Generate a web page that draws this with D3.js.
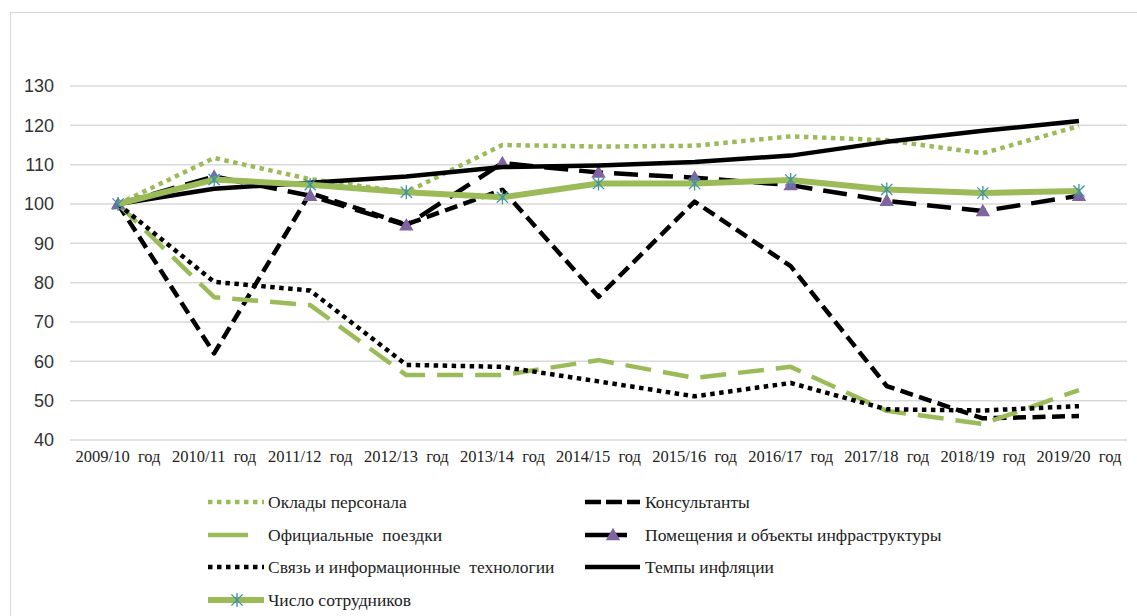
<!DOCTYPE html>
<html>
<head>
<meta charset="utf-8">
<script src="https://cdn.jsdelivr.net/npm/d3@7"></script>
<style>
  html, body { margin: 0; padding: 0; background: #fff; }
  svg { display: block; }
</style>
</head>
<body>
<main></main>
<script>
const years = ["2009/10", "2010/11", "2011/12", "2012/13", "2013/14", "2014/15",
  "2015/16", "2016/17", "2017/18", "2018/19", "2019/20"];
const yTicks = [40, 50, 60, 70, 80, 90, 100, 110, 120, 130];

const salaries = [100, 111.7, 106.3, 103, 115, 114.6, 114.8, 117.2, 116.2, 112.9, 119.8];
const consultants = [100, 62, 102.8, 94.8, 103.6, 76.4, 100.6, 84.2, 53.7, 45.5, 46.1];
const travel = [100, 76.3, 74.3, 56.5, 56.5, 60.3, 55.8, 58.6, 47.4, 44.1, 52.7];
const premises = [100, 107, 102.1, 94.6, 110.4, 108, 106.7, 104.8, 100.8, 98.2, 102.1];
const ict = [100, 80.2, 78, 59.1, 58.6, 54.9, 51.1, 54.5, 47.8, 47.5, 48.6];
const inflation = [100, 103.9, 105.4, 107, 109.4, 109.8, 110.7, 112.3, 115.8, 118.6, 121.1];
const staff = [100, 106.2, 104.9, 103, 101.7, 105.2, 105.2, 106.1, 103.7, 102.8, 103.3];

const seriesNames = ["Оклады персонала", "Консультанты", "Официальные  поездки",
  "Помещения и объекты инфраструктуры", "Связь и информационные  технологии",
  "Темпы инфляции", "Число сотрудников"];

const green = "#9bbb59", black = "#000", purple = "#8064a2", teal = "#3f93a6";

// order matters: later series are drawn on top
const series = [
  {name: seriesNames[0], values: salaries, color: green, width: 4.5, dash: "4.5,4.5"},
  {name: seriesNames[1], values: consultants, color: black, width: 4.5, dash: "13,6.5"},
  {name: seriesNames[2], values: travel, color: green, width: 4.5, dash: "26,12"},
  {name: seriesNames[3], values: premises, color: black, width: 4.5, dash: "24,11", marker: "triangle"},
  {name: seriesNames[4], values: ict, color: black, width: 4.5, dash: "4.5,4.5"},
  {name: seriesNames[5], values: inflation, color: black, width: 4.5, dash: null},
  {name: seriesNames[6], values: staff, color: green, width: 6, dash: null, marker: "star"}
];

const W = 1137, H = 616;
const svg = d3.select("main").append("svg")
  .attr("width", W).attr("height", H).attr("viewBox", `0 0 ${W} ${H}`);

// outer chart frame (only top and left edges are visible)
svg.append("rect")
  .attr("x", 10.5).attr("y", 12.5).attr("width", 1200).attr("height", 700)
  .attr("fill", "none").attr("stroke", "#d9d9d9").attr("stroke-width", 1.2);

const x = d3.scaleBand().domain(years).range([70, 1127]);
const y = d3.scaleLinear().domain([40, 130]).range([440, 86]);
const cx = d => x(d) + x.bandwidth() / 2;

// gridlines + y labels
const yAxis = svg.append("g")
  .call(d3.axisLeft(y).tickValues(yTicks).tickSize(0).tickPadding(0))
  .attr("transform", "translate(54,0)");
yAxis.select(".domain").remove();
yAxis.selectAll("text")
  .attr("font-family", "'Liberation Sans', Arial, sans-serif")
  .attr("font-size", 18).attr("fill", "#333");

svg.append("g").selectAll("line")
  .data(yTicks).join("line")
  .attr("x1", 70).attr("x2", 1127)
  .attr("y1", d => y(d)).attr("y2", d => y(d))
  .attr("stroke", "#d9d9d9").attr("stroke-width", 1.5);

// x labels
svg.append("g").selectAll("text")
  .data(years).join("text")
  .attr("x", d => cx(d)).attr("y", 462)
  .attr("text-anchor", "middle")
  .attr("font-family", "'Liberation Serif', 'Times New Roman', serif")
  .attr("font-size", 16.5).attr("fill", "#222")
  .style("white-space", "pre")
  .text(d => d + "  год");

const line = d3.line()
  .x((d, i) => cx(years[i]))
  .y(d => y(d));

const triangle = d3.symbol().type(d3.symbolTriangle).size(90);

function drawStar(g, px, py, r, color) {
  const s = g.append("g").attr("transform", `translate(${px},${py})`)
    .attr("stroke", color).attr("stroke-width", 1.3).attr("fill", "none");
  s.append("line").attr("x1", 0).attr("y1", -r).attr("x2", 0).attr("y2", r);
  s.append("line").attr("x1", -r * 0.8).attr("y1", -r * 0.8).attr("x2", r * 0.8).attr("y2", r * 0.8);
  s.append("line").attr("x1", -r * 0.8).attr("y1", r * 0.8).attr("x2", r * 0.8).attr("y2", -r * 0.8);
}

const plot = svg.append("g");
series.forEach(s => {
  plot.append("path")
    .datum(s.values)
    .attr("fill", "none")
    .attr("stroke", s.color)
    .attr("stroke-width", s.width)
    .attr("stroke-dasharray", s.dash)
    .attr("stroke-linejoin", "round")
    .attr("d", line);
  if (s.marker === "triangle") {
    plot.append("g").selectAll("path")
      .data(s.values).join("path")
      .attr("d", triangle)
      .attr("transform", (d, i) => `translate(${cx(years[i])},${y(d) + 1})`)
      .attr("fill", purple);
  }
  if (s.marker === "star") {
    s.values.forEach((d, i) => drawStar(plot, cx(years[i]), y(d), 7, teal));
  }
});

// legend
const legendFont = "'Liberation Serif', 'Times New Roman', serif";
const legendRows = [502, 535, 567, 600];
const leg = svg.append("g");
function legendItem(s, row, col) {
  const ly = legendRows[row];
  const x0 = col === 0 ? 208 : 585;
  const x1 = col === 0 ? 264 : 640;
  const tx = col === 0 ? 268 : 645;
  const g = leg.append("g");
  const longDash = s.dash && s.dash.startsWith("26");
  let end = x1;
  if (s.marker === "triangle") end = 627;
  if (longDash) end = 248;
  g.append("line")
    .attr("x1", x0).attr("x2", end).attr("y1", ly).attr("y2", ly)
    .attr("stroke", s.color).attr("stroke-width", s.width)
    .attr("stroke-dasharray", s.marker === "triangle" || longDash ? null :
      (s.dash === "13,6.5" ? "16,5" : s.dash));
  if (s.marker === "triangle") {
    g.append("path").attr("d", triangle)
      .attr("transform", `translate(613,${ly + 1})`).attr("fill", purple);
  }
  if (s.marker === "star") drawStar(g, 237, ly, 7, teal);
  g.append("text")
    .attr("x", tx).attr("y", ly + 6)
    .attr("font-family", legendFont).attr("font-size", 17.5).attr("fill", "#222")
    .style("white-space", "pre")
    .text(s.name);
}
series.forEach((s, i) => legendItem(s, Math.floor(i / 2), i % 2));
</script>
</body>
</html>
